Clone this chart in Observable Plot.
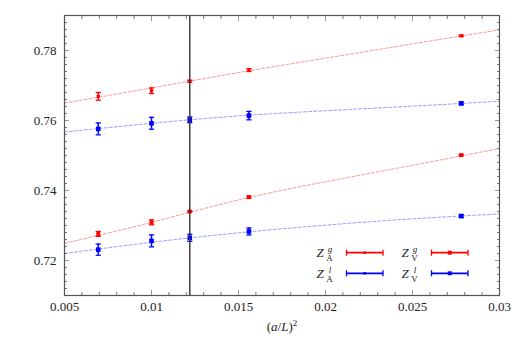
<!DOCTYPE html>
<html><head><meta charset="utf-8">
<script src="https://cdn.jsdelivr.net/npm/d3@7"></script>
<script src="https://cdn.jsdelivr.net/npm/@observablehq/plot@0.6"></script>
<style>body{margin:0;background:#fff} #chart{position:relative;width:524px;height:337px}
#chart svg, #chart svg text, #chart svg tspan {font-family: "Liberation Serif", serif !important;}</style>
</head><body><div id="chart"></div>
<script>
// (a/L)^2 values
const xs = [0.00694, 0.01, 0.0122, 0.0156, 0.0278];
const upperRed = [0.7669, 0.7685, 0.7712, 0.7744, 0.7842];
const upperRedErr = [0.0011, 0.0008, 0.0003, 0.0004, 0.0002];
const upperBlue = [0.7576, 0.7592, 0.7602, 0.7614, 0.7649];
const upperBlueErr = [0.0017, 0.0017, 0.0008, 0.0012, 0.0004];
const lowerRed = [0.7276, 0.7309, 0.7340, 0.7381, 0.7501];
const lowerRedErr = [0.0007, 0.0007, 0.0002, 0.0003, 0.0002];
const lowerBlue = [0.7231, 0.7256, 0.7265, 0.7283, 0.7327];
const lowerBlueErr = [0.0016, 0.0017, 0.0010, 0.0010, 0.0004];
// fit curves
const fitX = [0.005, 0.01, 0.015, 0.02, 0.025, 0.03];
const fitUpperRed = [0.7650, 0.7693, 0.7737, 0.7778, 0.7819, 0.7859];
const fitUpperBlue = [0.7567, 0.7592, 0.7613, 0.7628, 0.7641, 0.7655];
const fitLowerRed = [0.7249, 0.7309, 0.7373, 0.7425, 0.7472, 0.7520];
const fitLowerBlue = [0.7220, 0.7252, 0.7279, 0.7301, 0.7319, 0.7333];
const vline = [0.0122];
const xTicks = [0.005, 0.01, 0.015, 0.02, 0.025, 0.03];
const yTicks = [0.72, 0.74, 0.76, 0.78];
const xMinor = [0.005,0.006,0.007,0.008,0.009,0.01,0.011,0.012,0.013,0.014,0.015,0.016,0.017,0.018,0.019,0.02,0.021,0.022,0.023,0.024,0.025,0.026,0.027,0.028,0.029,0.03];
const yMinor = [0.71,0.712,0.714,0.716,0.718,0.72,0.722,0.724,0.726,0.728,0.73,0.732,0.734,0.736,0.738,0.74,0.742,0.744,0.746,0.748,0.75,0.752,0.754,0.756,0.758,0.76,0.762,0.764,0.766,0.768,0.77,0.772,0.774,0.776,0.778,0.78,0.782,0.784,0.786,0.788,0.79];

const RED = "#ff0000", BLUE = "#0000ff";
const FONT = "'Liberation Serif', serif";
const series = [
  {vals: upperRed, err: upperRedErr, fit: fitUpperRed, color: RED, fitColor: "rgba(255,60,60,0.55)", r: 1.8},
  {vals: upperBlue, err: upperBlueErr, fit: fitUpperBlue, color: BLUE, fitColor: "rgba(60,60,255,0.5)", r: 2.6},
  {vals: lowerRed, err: lowerRedErr, fit: fitLowerRed, color: RED, fitColor: "rgba(255,60,60,0.55)", r: 2.2},
  {vals: lowerBlue, err: lowerBlueErr, fit: fitLowerBlue, color: BLUE, fitColor: "rgba(60,60,255,0.5)", r: 2.6}
];
const capSymbol = {draw(ctx, size) { const r = Math.sqrt(size / Math.PI); ctx.moveTo(-r, 0); ctx.lineTo(r, 0); }};

const marks = [];
for (const s of series) {
  const pts = xs.map((x, i) => ({x, y: s.vals[i], lo: s.vals[i] - s.err[i], hi: s.vals[i] + s.err[i]}));
  const fit = fitX.map((x, i) => ({x, y: s.fit[i]}));
  marks.push(Plot.line(fit, {x: "x", y: "y", stroke: s.fitColor, strokeWidth: 1, strokeDasharray: "3,2", curve: "natural"}));
  marks.push(Plot.ruleX(pts, {x: "x", y1: "lo", y2: "hi", stroke: s.color, strokeWidth: 1.5}));
  marks.push(Plot.dot(pts, {x: "x", y: "lo", symbol: capSymbol, r: 2.6, stroke: s.color, strokeWidth: 1.3}));
  marks.push(Plot.dot(pts, {x: "x", y: "hi", symbol: capSymbol, r: 2.6, stroke: s.color, strokeWidth: 1.3}));
  marks.push(Plot.dot(pts, {x: "x", y: "y", symbol: "square", r: s.r, fill: s.color, stroke: "none"}));
}

const tickCol = "#777";
const chart = Plot.plot({
  width: 524, height: 337,
  marginLeft: 64, marginRight: 25, marginTop: 15, marginBottom: 42,
  style: {fontFamily: FONT, fontSize: "13px", color: "#222", background: "#fff"},
  x: {domain: [0.005, 0.03], label: null},
  y: {domain: [0.71, 0.79], label: null},
  marks: [
    Plot.axisX({anchor: "bottom", ticks: xMinor, tickSize: -3, tickFormat: () => "", stroke: tickCol, label: null}),
    Plot.axisX({anchor: "top", ticks: xMinor, tickSize: -3, tickFormat: () => "", stroke: tickCol, label: null}),
    Plot.axisX({anchor: "bottom", ticks: xTicks, tickSize: -5, tickFormat: () => "", stroke: "#999", label: null}),
    Plot.axisX({anchor: "top", ticks: xTicks, tickSize: -5, tickFormat: () => "", stroke: "#999", label: null}),
    Plot.axisX({anchor: "bottom", ticks: xTicks, tickSize: 0, tickPadding: 6, tickFormat: d => String(d), fill: "#222", fontFamily: FONT, label: null}),
    Plot.axisY({anchor: "left", ticks: yMinor, tickSize: -3, tickFormat: () => "", stroke: tickCol, label: null}),
    Plot.axisY({anchor: "right", ticks: yMinor, tickSize: -3, tickFormat: () => "", stroke: tickCol, label: null}),
    Plot.axisY({anchor: "left", ticks: yTicks, tickSize: -5, tickFormat: () => "", stroke: "#999", label: null}),
    Plot.axisY({anchor: "right", ticks: yTicks, tickSize: -5, tickFormat: () => "", stroke: "#999", label: null}),
    Plot.axisY({anchor: "left", ticks: yTicks, tickSize: 0, tickPadding: 8, tickFormat: d => String(d), fill: "#222", fontFamily: FONT, label: null}),
    ...marks,
    Plot.ruleX(vline, {stroke: "#333", strokeWidth: 1.4}),
    Plot.frame({stroke: "#555", strokeWidth: 1.2})
  ]
});
document.getElementById("chart").appendChild(chart);

// x-axis label and legend
const svg = d3.select(chart);
const xl = svg.append("text").attr("x", 282).attr("y", 331).attr("text-anchor", "middle")
  .attr("font-family", FONT).attr("font-size", 13).attr("fill", "#222");
xl.append("tspan").text("(");
xl.append("tspan").attr("font-style", "italic").text("a");
xl.append("tspan").text("/");
xl.append("tspan").attr("font-style", "italic").text("L");
xl.append("tspan").text(")");
xl.append("tspan").attr("font-size", 9).attr("dy", -5).text("2");

const legendItems = [
  {sub: "A", sup: "g", color: RED, col: 0, row: 0, marker: "dot"},
  {sub: "V", sup: "g", color: RED, col: 1, row: 0, marker: "square"},
  {sub: "A", sup: "l", color: BLUE, col: 0, row: 1, marker: "dot"},
  {sub: "V", sup: "l", color: BLUE, col: 1, row: 1, marker: "square"}
];
const lg = svg.append("g").attr("font-family", FONT);
for (const it of legendItems) {
  const x0 = 320 + it.col * 85, y0 = 252.7 + it.row * 20.6;
  lg.append("text").attr("x", x0).attr("y", y0 + 4.5).attr("font-style", "italic")
    .attr("font-size", 13).attr("fill", "#222").text("Z");
  lg.append("text").attr("x", x0 + 10).attr("y", y0 - 0.5).attr("font-style", "italic")
    .attr("font-size", 9).attr("fill", "#222").text(it.sup);
  lg.append("text").attr("x", x0 + 9.5).attr("y", y0 + 8.5)
    .attr("font-size", 9).attr("fill", "#222").text(it.sub);
  const lx1 = x0 + 26.5, lx2 = x0 + 63;
  lg.append("line").attr("x1", lx1).attr("x2", lx2).attr("y1", y0).attr("y2", y0).attr("stroke", it.color).attr("stroke-width", 1.8);
  for (const lx of [lx1, lx2]) lg.append("line").attr("x1", lx).attr("x2", lx).attr("y1", y0 - 3).attr("y2", y0 + 3).attr("stroke", it.color).attr("stroke-width", 1.3);
  const mx = (lx1 + lx2) / 2;
  const s = it.marker === "square" ? 4 : 2.5;
  lg.append("rect").attr("x", mx - s / 2).attr("y", y0 - s / 2).attr("width", s).attr("height", s).attr("fill", it.color);
}
</script>
</body></html>
